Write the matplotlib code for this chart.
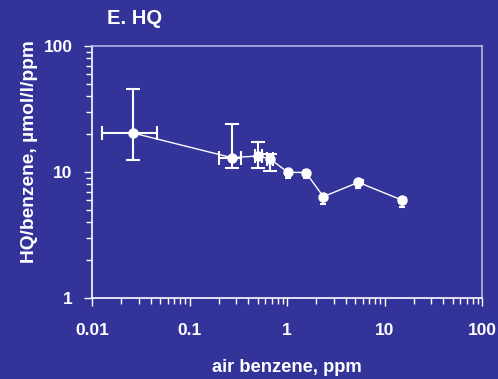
import matplotlib
matplotlib.use("Agg")
import matplotlib.pyplot as plt
import numpy as np
from matplotlib.ticker import LogLocator, FixedLocator, NullFormatter

# ---- data ----
air_benzene = [0.0263, 0.271, 0.508, 0.670, 1.02, 1.56, 2.36, 5.38, 15.0]
hq_ratio    = [20.4, 13.0, 13.4, 12.7, 9.95, 9.9, 6.37, 8.28, 6.0]
y_low       = [12.4, 10.7, 10.7, 10.1, 9.0, 9.0, 5.6, 7.4, 5.3]
y_high      = [45.6, 24.2, 17.2, 13.8, 10.4, 10.3, 6.6, 8.6, 6.2]
x_low       = [0.0127, 0.201, 0.47, 0.63, 0.97, 1.50, 2.28, 5.15, 14.5]
x_high      = [0.0464, 0.335, 0.55, 0.72, 1.10, 1.70, 2.55, 5.95, 16.5]
x_ticks = [0.01, 0.1, 1, 10, 100]
x_tick_labels = ["0.01", "0.1", "1", "10", "100"]
y_ticks = [1, 10, 100]
y_tick_labels = ["1", "10", "100"]

BG = "#333399"
plt.rcParams['font.family'] = ['Liberation Sans', 'DejaVu Sans']

fig = plt.figure(figsize=(4.98, 3.79), dpi=100, facecolor=BG)
ax = fig.add_axes([92/498, 1-298/379, 390/498, 252/379], facecolor=BG)

x = np.array(air_benzene); y = np.array(hq_ratio)
yerr = np.array([y - np.array(y_low), np.array(y_high) - y])
xerr = np.array([x - np.array(x_low), np.array(x_high) - x])

ax.plot(x, y, color="white", lw=1.0, zorder=2)
big = slice(0, 4)
small = slice(4, None)
ax.errorbar(x[big], y[big], yerr=yerr[:, big], xerr=xerr[:, big], fmt='none',
            ecolor="white", elinewidth=1.5, capsize=5, capthick=1.5, zorder=3)
ax.errorbar(x[small], y[small], yerr=yerr[:, small], xerr=xerr[:, small], fmt='none',
            ecolor="white", elinewidth=1.5, capsize=2, capthick=1.5, zorder=3)
ax.plot(x, y, 'o', color="white", ms=6.5, mec="white", zorder=4)

ax.set_xscale('log'); ax.set_yscale('log')
ax.set_xlim(0.01, 100); ax.set_ylim(1, 100)

ax.xaxis.set_major_locator(FixedLocator(x_ticks))
ax.set_xticklabels(x_tick_labels)
ax.yaxis.set_major_locator(FixedLocator(y_ticks))
ax.set_yticklabels(y_tick_labels)
ax.xaxis.set_minor_locator(LogLocator(base=10, subs=np.arange(2, 10), numticks=20))
ax.yaxis.set_minor_locator(LogLocator(base=10, subs=np.arange(2, 10), numticks=20))
ax.xaxis.set_minor_formatter(NullFormatter())
ax.yaxis.set_minor_formatter(NullFormatter())

ax.tick_params(which='major', direction='out', length=6, width=1, color='white',
               labelcolor='white', labelsize=12.5)
ax.tick_params(which='minor', direction='out', length=4, width=1, color='white')
ax.tick_params(axis='x', which='major', pad=12)
ax.tick_params(axis='y', which='major', pad=8)
for lab in ax.get_xticklabels() + ax.get_yticklabels():
    lab.set_fontweight('bold')

for side in ['left', 'bottom']:
    ax.spines[side].set_color('white'); ax.spines[side].set_linewidth(1.2)
for side in ['top', 'right']:
    ax.spines[side].set_color('#b4b4e0'); ax.spines[side].set_linewidth(1.2)

fig.text(287/498, 1-368/379, "air benzene, ppm", color='white', fontsize=13.2,
         fontweight='bold', ha='center', va='center')
fig.text(29/498, 1-152/379, "HQ/benzene, µmol/l/ppm", color='white', fontsize=13.8,
         fontweight='bold', ha='center', va='center', rotation=90)
fig.text(107/498, 1-19/379, "E. HQ", color='white', fontsize=14.5, fontweight='bold',
         ha='left', va='center')

fig.savefig("out.png", dpi=100, facecolor=BG)
